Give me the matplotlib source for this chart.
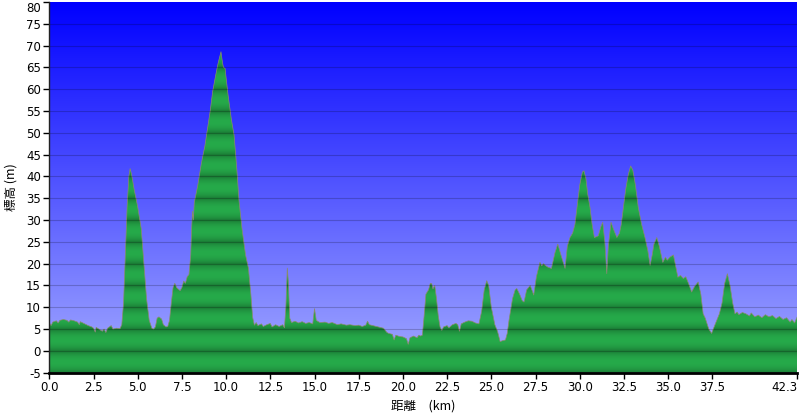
import numpy as np
import matplotlib
matplotlib.use('Agg')
import matplotlib.pyplot as plt

dist = [0.0, 0.1, 0.2, 0.4, 0.5, 0.6, 0.8, 1.0, 1.1, 1.2, 1.4, 1.6, 1.7, 1.75, 1.9, 2.0, 2.2, 2.4, 2.5, 2.6,
        2.65, 2.8, 3.0, 3.1, 3.2, 3.3, 3.5, 3.6, 3.8, 4.0, 4.1, 4.2, 4.3, 4.4, 4.5, 4.57, 4.65, 4.8, 5.0, 5.2,
        5.35, 5.5, 5.65, 5.8, 5.9, 6.0, 6.1, 6.2, 6.35, 6.45, 6.6, 6.7, 6.8, 6.9, 7.0, 7.1, 7.2, 7.4, 7.5, 7.6,
        7.7, 7.8, 7.9, 8.0, 8.05, 8.1, 8.15, 8.2, 8.4, 8.6, 8.8, 8.9, 9.1, 9.24, 9.4, 9.55, 9.71, 9.8, 9.85, 9.94,
        10.1, 10.3, 10.45, 10.6, 10.73, 10.9, 11.1, 11.26, 11.4, 11.5, 11.6, 11.7, 11.8, 12.0, 12.1, 12.3, 12.5, 12.6, 12.8, 13.0,
        13.2, 13.3, 13.38, 13.46, 13.52, 13.6, 13.7, 13.9, 14.1, 14.3, 14.5, 14.7, 14.9, 15.0, 15.1, 15.3, 15.6, 15.8, 16.0, 16.3,
        16.5, 16.8, 17.0, 17.3, 17.5, 17.7, 17.9, 18.0, 18.1, 18.3, 18.5, 18.7, 18.9, 19.1, 19.2, 19.4, 19.5, 19.6, 19.8, 20.0,
        20.2, 20.3, 20.4, 20.6, 20.8, 20.9, 21.0, 21.1, 21.2, 21.3, 21.45, 21.55, 21.63, 21.7, 21.8, 21.9, 22.0, 22.1, 22.2, 22.3,
        22.5, 22.6, 22.8, 23.0, 23.1, 23.2, 23.3, 23.5, 23.7, 23.9, 24.1, 24.3, 24.45, 24.6, 24.74, 24.85, 25.0, 25.2, 25.35, 25.5,
        25.6, 25.8, 25.9, 26.0, 26.2, 26.35, 26.44, 26.6, 26.75, 26.85, 27.0, 27.2, 27.4, 27.55, 27.75, 27.85, 27.95, 28.05, 28.2, 28.4,
        28.6, 28.76, 28.9, 29.05, 29.17, 29.3, 29.45, 29.6, 29.73, 29.85, 30.0, 30.15, 30.24, 30.35, 30.45, 30.58, 30.7, 30.83, 30.95, 31.05,
        31.2, 31.3, 31.42, 31.53, 31.62, 31.77, 31.9, 32.1, 32.25, 32.35, 32.47, 32.6, 32.75, 32.88, 33.0, 33.15, 33.31, 33.5, 33.69, 33.85,
        33.98, 34.1, 34.2, 34.36, 34.5, 34.7, 34.85, 34.95, 35.1, 35.3, 35.45, 35.55, 35.7, 35.86, 36.0, 36.15, 36.33, 36.5, 36.7, 36.85,
        36.98, 37.1, 37.3, 37.46, 37.6, 37.75, 37.9, 38.05, 38.2, 38.35, 38.5, 38.65, 38.78, 38.9, 39.0, 39.2, 39.4, 39.6, 39.7, 39.9,
        40.1, 40.3, 40.5, 40.7, 40.9, 41.1, 41.3, 41.5, 41.7, 41.9, 42.0, 42.15, 42.3]
elev = [6.5, 5.8, 6.6, 6.9, 6.4, 7.0, 7.2, 7.0, 6.6, 7.1, 6.9, 6.6, 6.0, 6.7, 6.4, 6.2, 5.8, 5.5, 5.2, 4.3,
        5.4, 5.0, 4.5, 5.0, 4.2, 5.2, 5.8, 5.0, 5.2, 5.1, 6.0, 11.0, 22.0, 33.0, 40.0, 41.8, 40.5, 37.0, 33.0, 28.0,
        20.0, 12.0, 7.0, 5.2, 5.0, 5.5, 7.5, 7.8, 7.3, 6.0, 5.5, 5.6, 7.0, 11.0, 14.5, 15.5, 14.5, 13.8, 14.5, 16.0,
        15.5, 17.0, 17.5, 22.0, 28.0, 32.0, 30.0, 34.0, 38.0, 43.0, 47.0, 49.7, 55.0, 59.5, 63.0, 66.0, 68.6, 66.0, 65.0, 64.8,
        59.0, 53.0, 49.5, 42.0, 34.4, 28.0, 22.0, 19.0, 13.0, 7.7, 5.9, 6.5, 5.8, 6.2, 5.6, 6.0, 6.3, 5.5, 6.0, 5.6,
        6.0, 5.3, 10.0, 19.0, 16.0, 7.5, 6.5, 6.8, 6.4, 6.7, 6.3, 6.5, 6.2, 9.7, 7.0, 6.5, 6.6, 6.3, 6.5, 6.0,
        6.2, 5.9, 6.0, 5.8, 5.9, 5.6, 5.9, 6.8, 6.0, 5.8, 5.6, 5.4, 5.2, 4.2, 4.0, 3.8, 2.5, 3.6, 3.3, 3.2,
        2.8, 1.5, 3.0, 3.4, 3.0, 3.6, 3.4, 3.6, 8.0, 13.0, 14.0, 15.5, 15.4, 14.2, 15.0, 12.0, 8.0, 5.5, 4.7, 5.5,
        5.8, 5.3, 6.0, 6.3, 6.0, 4.5, 6.2, 6.6, 6.9, 6.8, 6.4, 6.2, 9.0, 14.0, 16.1, 15.0, 10.0, 6.0, 4.5, 2.1,
        2.3, 2.5, 4.0, 7.0, 12.0, 14.0, 14.3, 13.0, 11.5, 11.2, 14.0, 15.0, 12.8, 17.0, 20.3, 19.5, 20.0, 19.6, 19.2, 18.9,
        22.5, 24.5, 22.5, 20.5, 18.9, 24.0, 26.0, 27.0, 29.0, 33.0, 38.0, 41.0, 41.3, 39.5, 36.0, 32.9, 29.0, 26.0, 26.2, 26.4,
        28.5, 29.5, 25.0, 17.7, 24.0, 29.5, 28.0, 26.0, 27.0, 29.0, 32.9, 37.0, 40.5, 42.4, 41.5, 38.0, 32.9, 29.0, 26.0, 23.0,
        19.6, 22.0, 24.5, 26.0, 24.0, 20.3, 21.5, 20.8, 21.5, 22.0, 19.0, 16.9, 17.3, 16.6, 17.0, 15.5, 13.5, 14.8, 15.8, 13.0,
        8.5, 7.5, 5.0, 4.0, 5.5, 7.0, 8.5, 11.0, 15.5, 17.7, 15.0, 11.0, 8.5, 8.9, 8.3, 8.8, 8.5, 8.0, 8.7, 7.8,
        8.2, 7.6, 8.3, 7.8, 8.1, 7.4, 7.9, 7.2, 7.6, 6.6, 7.2, 6.4, 7.8]

x_ticks = [0.0, 2.5, 5.0, 7.5, 10.0, 12.5, 15.0, 17.5, 20.0, 22.5, 25.0, 27.5, 30.0, 32.5, 35.0, 37.5, 42.3]
x_tick_labels = ['0.0', '2.5', '5.0', '7.5', '10.0', '12.5', '15.0', '17.5', '20.0', '22.5',
                 '25.0', '27.5', '30.0', '32.5', '35.0', '37.5', '42.3']
y_ticks = list(range(-5, 81, 5))
x_label = '距離　(km)'
y_label = '標高 (m)'

XMIN, XMAX, YMIN, YMAX = 0.0, 42.3, -5, 80

fig = plt.figure(figsize=(8, 4.15), dpi=100)
W, H = 800, 415
ax = fig.add_axes([49.3 / W, (H - 372.7) / H, (797.2 - 49.3) / W, (372.7 - 2) / H])
ax.set_xlim(XMIN, XMAX)
ax.set_ylim(YMIN, YMAX)

# sky gradient background
n = 512
t = np.linspace(0, 1, n)[:, None]
c_top = np.array([0, 0, 255]) / 255
c_bot = np.array([165, 172, 255]) / 255
sky = (c_top * (1 - t) + c_bot * t)[:, None, :]
ax.imshow(sky, extent=[XMIN, XMAX, YMIN, YMAX], aspect='auto', origin='upper', zorder=0,
          interpolation='bilinear')

# banded green fill
e = np.linspace(YMAX, YMIN, 1700)
frac = np.mod(e, 5) / 5.0
shape = np.sin(np.pi * frac) ** 0.7
dark = np.array([26, 120, 52]) / 255
light = np.array([38, 170, 74]) / 255
green = (dark[None, :] * (1 - shape[:, None]) + light[None, :] * shape[:, None])[:, None, :]
im = ax.imshow(green, extent=[XMIN, XMAX, YMIN, YMAX], aspect='auto', origin='upper', zorder=1,
               interpolation='bilinear')
poly = ax.fill_between(dist, elev, YMIN, color='none', lw=0)
im.set_clip_path(poly.get_paths()[0], ax.transData)

ax.plot(dist, elev, color='#8a8a6c', lw=0.5, zorder=2)

for yv in y_ticks[1:-1]:
    ax.axhline(yv, color='black', alpha=0.2, lw=0.8, zorder=3)

for s in ['top', 'right']:
    ax.spines[s].set_visible(False)
ax.spines['left'].set_color('#222222')
ax.spines['left'].set_linewidth(1.0)
ax.spines['bottom'].set_color('black')
ax.spines['bottom'].set_linewidth(2.0)
ax.spines['left'].set_zorder(5)
ax.spines['bottom'].set_zorder(5)

ax.set_xticks(x_ticks)
ax.set_xticklabels(x_tick_labels)
ax.set_yticks(y_ticks)
ax.set_yticklabels([str(v) for v in y_ticks])
ax.tick_params(direction='out', length=4, width=1, labelsize=8.5, colors='black', pad=2)
ax.get_xticklabels()[-1].set_horizontalalignment('right')
ax.get_yticklabels()[-1].set_verticalalignment('top')

cjk = ['Noto Sans CJK JP', 'DejaVu Sans']
ax.set_xlabel(x_label, fontsize=9, family=cjk, labelpad=4)
ax.set_ylabel(y_label, fontsize=9, family=cjk, labelpad=6)

fig.savefig('out.png', dpi=100)
